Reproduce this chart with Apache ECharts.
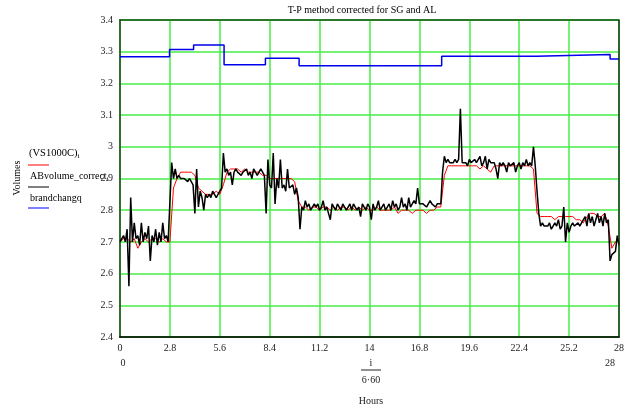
<!DOCTYPE html>
<html>
<head>
<meta charset="utf-8">
<script src="https://cdn.jsdelivr.net/npm/echarts@6/dist/echarts.min.js"></script>
<style>html,body{margin:0;padding:0;background:#fff}#c{width:634px;height:408px}</style>
</head>
<body>
<div id="c"></div>
<script>
// Black series: ABvolume_correct, sampled every 0.1 hour from 0 to 28
var blackStep = 0.1;
var blackValues = [
 2.70,2.71,2.72,2.70,2.74,2.56,2.84,2.70,2.76,2.71,
 2.72,2.69,2.76,2.70,2.73,2.71,2.75,2.64,2.72,2.70,
 2.74,2.69,2.73,2.70,2.76,2.71,2.72,2.70,2.70,2.95,
 2.90,2.93,2.90,2.91,2.90,2.90,2.90,2.90,2.89,2.90,
 2.90,2.88,2.79,2.93,2.81,2.86,2.84,2.80,2.85,2.84,
 2.85,2.84,2.86,2.85,2.84,2.85,2.86,2.87,2.98,2.92,
 2.93,2.91,2.92,2.88,2.92,2.93,2.92,2.92,2.91,2.92,
 2.92,2.93,2.91,2.92,2.90,2.93,2.92,2.91,2.92,2.93,
 2.92,2.91,2.79,2.96,2.88,2.87,2.98,2.82,2.90,2.87,
 2.96,2.87,2.88,2.86,2.93,2.87,2.87,2.88,2.85,2.87,
 2.84,2.74,2.81,2.80,2.83,2.81,2.82,2.80,2.81,2.82,
 2.81,2.82,2.80,2.81,2.83,2.80,2.81,2.79,2.77,2.82,
 2.81,2.80,2.82,2.81,2.80,2.82,2.81,2.80,2.81,2.82,
 2.80,2.82,2.81,2.80,2.81,2.78,2.82,2.81,2.80,2.82,
 2.81,2.77,2.82,2.80,2.81,2.83,2.80,2.81,2.82,2.80,
 2.81,2.82,2.80,2.83,2.81,2.82,2.80,2.81,2.84,2.81,
 2.82,2.80,2.84,2.81,2.82,2.83,2.82,2.87,2.82,2.82,
 2.82,2.82,2.81,2.82,2.83,2.82,2.82,2.81,2.82,2.82,
 2.82,2.92,2.97,2.95,2.96,2.95,2.95,2.95,2.96,2.95,
 2.96,3.12,2.95,2.95,2.95,2.94,2.96,2.95,2.95,2.96,
 2.95,2.95,2.97,2.94,2.95,2.97,2.93,2.96,2.95,2.95,
 2.95,2.93,2.90,2.95,2.94,2.95,2.94,2.92,2.95,2.94,
 2.94,2.95,2.92,2.94,2.95,2.93,2.95,2.94,2.96,2.94,
 2.95,2.94,3.00,2.94,2.86,2.79,2.75,2.76,2.75,2.75,
 2.75,2.76,2.74,2.75,2.76,2.75,2.77,2.74,2.75,2.81,
 2.70,2.76,2.73,2.75,2.76,2.75,2.75,2.76,2.75,2.76,
 2.76,2.78,2.75,2.79,2.76,2.78,2.75,2.77,2.79,2.76,
 2.78,2.75,2.79,2.76,2.77,2.64,2.66,2.66,2.67,2.72,
 2.69
];
// Red series: (VS1000C), sampled every 0.2 hour from 0 to 28
var redStep = 0.2;
var redValues = [
 2.70,2.71,2.71,2.70,2.71,
 2.68,2.70,2.71,2.70,2.71,
 2.71,2.70,2.71,2.70,2.70,
 2.87,2.90,2.92,2.92,2.92,
 2.92,2.91,2.87,2.86,2.85,
 2.85,2.85,2.86,2.85,2.88,
 2.92,2.93,2.93,2.93,2.92,
 2.93,2.92,2.92,2.92,2.92,
 2.91,2.91,2.90,2.90,2.90,
 2.90,2.90,2.90,2.90,2.89,
 2.83,2.81,2.81,2.80,2.81,
 2.81,2.80,2.81,2.81,2.80,
 2.81,2.80,2.81,2.81,2.80,
 2.81,2.80,2.81,2.80,2.81,
 2.80,2.80,2.81,2.80,2.80,
 2.80,2.80,2.81,2.79,2.80,
 2.80,2.80,2.79,2.80,2.80,
 2.80,2.79,2.80,2.80,2.81,
 2.81,2.91,2.94,2.94,2.94,
 2.94,2.94,2.94,2.94,2.94,
 2.94,2.93,2.94,2.93,2.92,
 2.94,2.94,2.94,2.94,2.94,
 2.94,2.94,2.94,2.94,2.94,
 2.94,2.93,2.79,2.78,2.78,
 2.78,2.78,2.77,2.78,2.78,
 2.78,2.78,2.78,2.77,2.77,
 2.76,2.78,2.79,2.79,2.78,
 2.78,2.79,2.75,2.68,2.70,
 2.71
];
// Blue step series: brandchangq
var blueHours  = [0, 2.78, 4.13, 5.84, 8.16, 10.05, 18.05, 23.36, 27.5, 28];
var blueValues = [3.284, 3.307, 3.321, 3.259, 3.279, 3.256, 3.286, 3.291, 3.277, 3.277];

var xTicks = [0, 2.8, 5.6, 8.4, 11.2, 14, 16.8, 19.6, 22.4, 25.2, 28];

function pairs(step, vals){ return vals.map(function(v,i){ return [+(i*step).toFixed(2), v]; }); }
var blueData = blueHours.map(function(h,i){ return [h, blueValues[i]]; });

var chart = echarts.init(document.getElementById('c'), null, {renderer:'canvas'});
var serif = '"Liberation Serif","DejaVu Serif",serif';
chart.setOption({
  animation: false,
  backgroundColor: '#fff',
  grid: {left:120, right:15, top:20, bottom:71, show:true, borderColor:'#1f5a1f', borderWidth:1.5},
  xAxis: {
    type:'value', min:0, max:28, interval:2.8,
    axisLine:{show:true, lineStyle:{color:'#000', width:1.5}},
    axisTick:{show:false},
    axisLabel:{fontFamily:serif, fontSize:10, color:'#222', margin:6,
      formatter:function(v){ return String(+v.toFixed(1)); }},
    splitLine:{show:true, lineStyle:{color:'#46ee46', width:1.5}}
  },
  yAxis: {
    type:'value', min:2.4, max:3.4, interval:0.1,
    axisLine:{show:true, lineStyle:{color:'#2e6e2e', width:2}},
    axisTick:{show:false},
    axisLabel:{fontFamily:serif, fontSize:10, color:'#222', margin:7,
      formatter:function(v){ return String(+v.toFixed(1)); }},
    splitLine:{show:true, lineStyle:{color:'#46ee46', width:1.5}}
  },
  series: [
    {type:'line', data:pairs(redStep, redValues), showSymbol:false, symbol:'none',
     lineStyle:{color:'#ff0000', width:1}, z:2},
    {type:'line', data:pairs(blackStep, blackValues), showSymbol:false, symbol:'none',
     lineStyle:{color:'#000000', width:1.5}, z:3},
    {type:'line', data:blueData, step:'end', showSymbol:false, symbol:'none',
     lineStyle:{color:'#0000ee', width:1.5}, z:3}
  ],
  graphic: [
    {type:'line', z:100, shape:{x1:120, y1:20, x2:619, y2:20}, style:{stroke:'#1f5a1f', lineWidth:1.5}},
    {type:'line', z:100, shape:{x1:619, y1:20, x2:619, y2:337}, style:{stroke:'#1a1a1a', lineWidth:1.2}},
    {type:'text', style:{text:'T-P method corrected for SG and AL', x:362, y:10, fontFamily:serif, fontSize:10, fill:'#000', align:'center', verticalAlign:'middle'}},
    {type:'text', style:{text:'Volumes', x:0, y:0, fontFamily:serif, fontSize:10, fill:'#000', align:'center', verticalAlign:'middle'}, x:17, y:178, rotation:Math.PI/2},
    {type:'text', style:{text:'{a|(VS1000C)}{s|i}', x:29, y:153, verticalAlign:'middle', rich:{a:{fontFamily:serif, fontSize:10.5, fill:'#000'}, s:{fontFamily:serif, fontSize:7, fill:'#000', padding:[6,0,0,0]}}}},
    {type:'line', shape:{x1:28, y1:165, x2:49, y2:165}, style:{stroke:'#ff0000', lineWidth:1}},
    {type:'text', style:{text:'{a|ABvolume_correct}{s|i}', x:30, y:176, verticalAlign:'middle', rich:{a:{fontFamily:serif, fontSize:10, fill:'#000'}, s:{fontFamily:serif, fontSize:7, fill:'#000', padding:[6,0,0,0]}}}},
    {type:'line', shape:{x1:28, y1:187, x2:49, y2:187}, style:{stroke:'#000', lineWidth:1}},
    {type:'text', style:{text:'brandchangq', x:30, y:198, fontFamily:serif, fontSize:10, fill:'#000', verticalAlign:'middle'}},
    {type:'line', shape:{x1:28, y1:208, x2:49, y2:208}, style:{stroke:'#0000ff', lineWidth:1}},
    {type:'text', style:{text:'0', x:123, y:363, fontFamily:serif, fontSize:10, fill:'#222', align:'center', verticalAlign:'middle'}},
    {type:'text', style:{text:'28', x:610, y:363, fontFamily:serif, fontSize:10, fill:'#222', align:'center', verticalAlign:'middle'}},
    {type:'text', style:{text:'i', x:371, y:363, fontFamily:serif, fontSize:10, fill:'#222', align:'center', verticalAlign:'middle'}},
    {type:'line', shape:{x1:361, y1:370, x2:381, y2:370}, style:{stroke:'#222', lineWidth:1}},
    {type:'text', style:{text:'6·60', x:371, y:380, fontFamily:serif, fontSize:10, fill:'#222', align:'center', verticalAlign:'middle'}},
    {type:'text', style:{text:'Hours', x:371, y:401, fontFamily:serif, fontSize:10, fill:'#222', align:'center', verticalAlign:'middle'}}
  ]
});
</script>
</body>
</html>
